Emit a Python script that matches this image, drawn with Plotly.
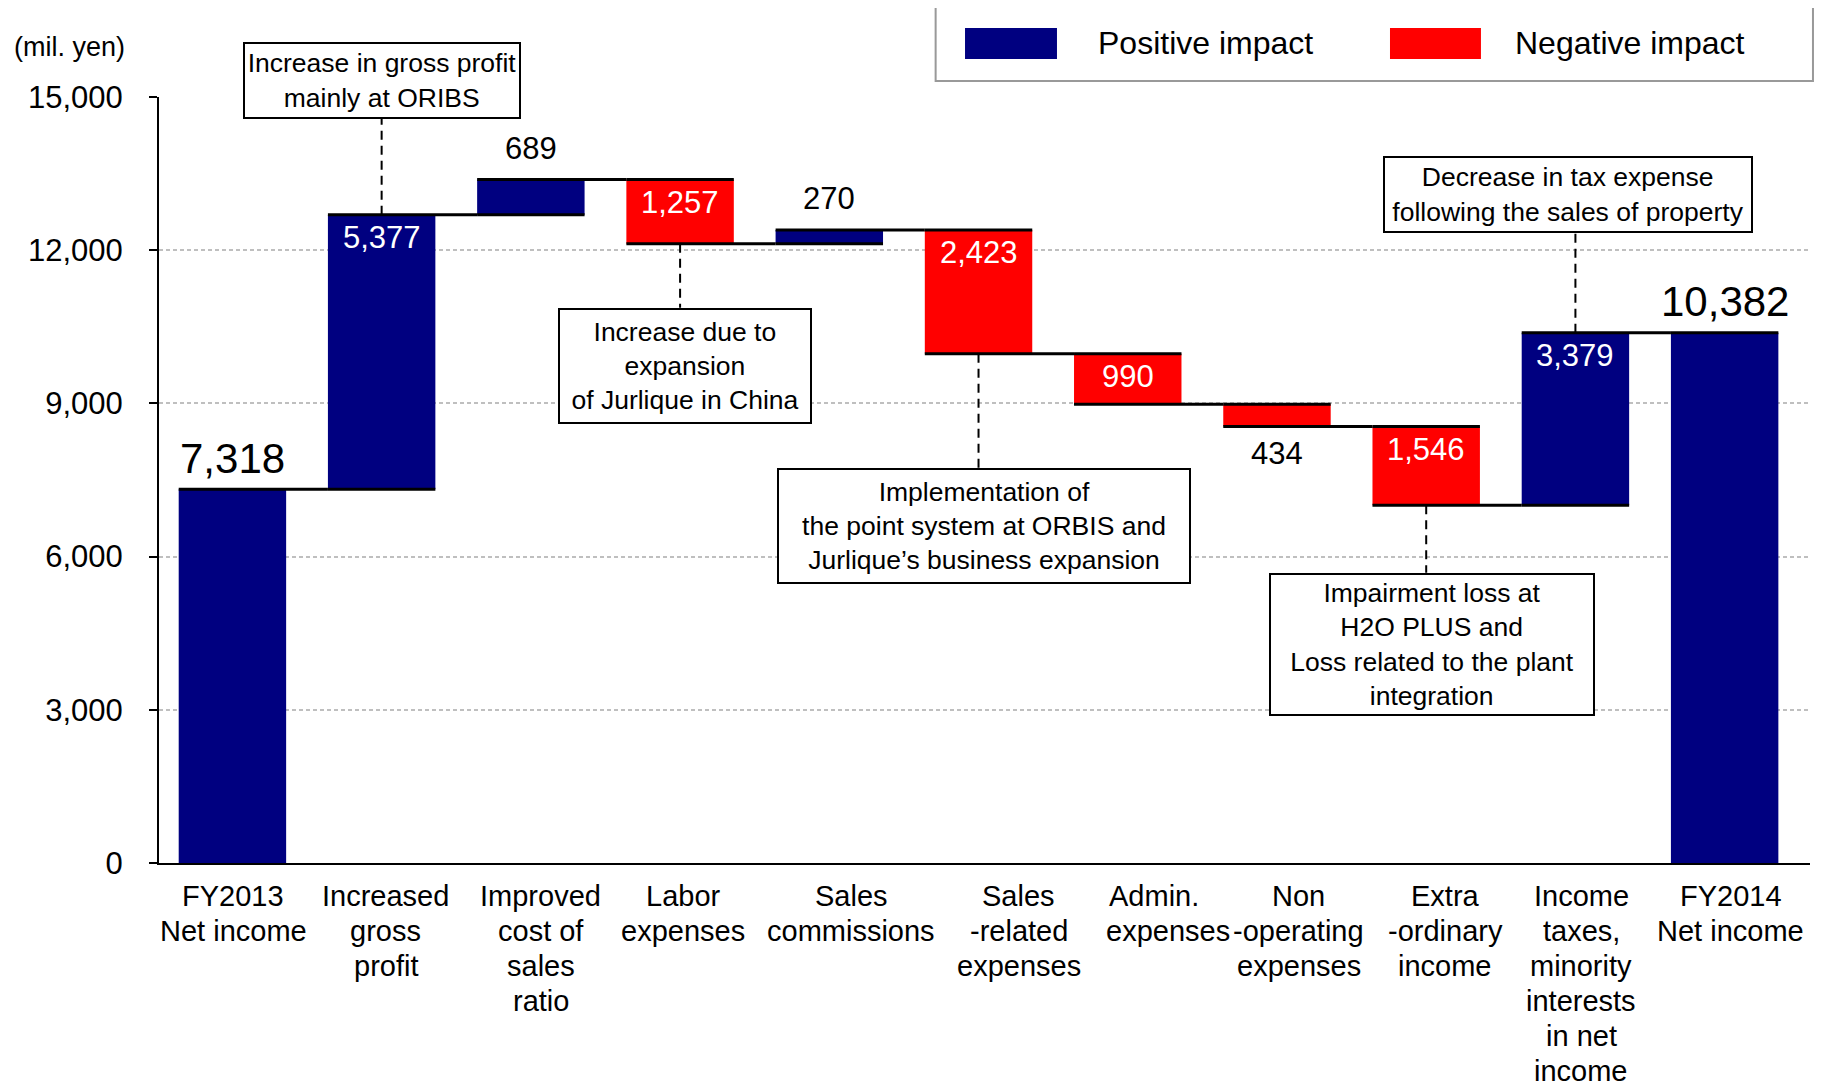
import plotly.graph_objects as go

# ---------------- data ----------------
categories = [
    "FY2013<br>Net income",
    "Increased<br>gross<br>profit",
    "Improved<br>cost of<br>sales<br>ratio",
    "Labor<br>expenses",
    "Sales<br>commissions",
    "Sales<br>-related<br>expenses",
    "Admin.<br>expenses",
    "Non<br>-operating<br>expenses",
    "Extra<br>-ordinary<br>income",
    "Income<br>taxes,<br>minority<br>interests<br>in net<br>income",
    "FY2014<br>Net income",
]
values = [7318, 5377, 689, -1257, 270, -2423, -990, -434, -1546, 3379, 10382]
measures = ["absolute"] + ["relative"] * 9 + ["absolute"]
y_ticks = [0, 3000, 6000, 9000, 12000, 15000]

legend_labels = ["Positive impact", "Negative impact"]
unit_label = "(mil. yen)"

callout_texts = [
    "Increase in gross profit<br>mainly at ORIBS",
    "Increase due to<br>expansion<br>of Jurlique in China",
    "Implementation of<br>the point system at ORBIS and<br>Jurlique\u2019s business expansion",
    "Impairment loss at<br>H2O PLUS and<br>Loss related to the plant<br>integration",
    "Decrease in tax expense<br>following the sales of property",
]
callout_category_index = [1, 3, 5, 8, 9]

# ---------------- styles / layout ----------------
NAVY = "#000080"
RED = "#FF0000"
FONT = "Liberation Sans, Arial, sans-serif"

label_pos = ["above", "inside", "above", "inside", "above", "inside",
             "inside", "below", "inside", "inside", "above"]
label_xshift = [1, 4, 10, 3, 22, 40, 40, 22, 19, 6, 6]
line_xshift_override = {(6, 0): 26}
callout_xshift = [0, 5, 5, 6, -7]
callout_box_edge = [14577, 10874, 7739, 5682, 12343]  # y level of the box edge nearest the bar
callout_side = ["above", "below", "below", "below", "above"]
callout_width = [268, 244, 404, 316, 360]
callout_height = [67, 106, 106, None, 67]

# cumulative positions (derived from data)
starts, ends = [], []
running = 0
for v, m in zip(values, measures):
    if m == "absolute":
        starts.append(0)
        running = v
    else:
        starts.append(running)
        running += v
    ends.append(running)
tops = [max(s, e) for s, e in zip(starts, ends)]
bottoms = [min(s, e) for s, e in zip(starts, ends)]

fig = go.Figure()
fig.add_trace(go.Waterfall(
    x=categories, y=values, measure=measures,
    increasing=dict(marker=dict(color=NAVY)),
    decreasing=dict(marker=dict(color=RED)),
    totals=dict(marker=dict(color=NAVY)),
    connector=dict(mode="spanning", line=dict(color="black", width=3)),
    width=0.72,
    textinfo="none",
    hoverinfo="skip",
    showlegend=False,
))

annotations = []
shapes = []

# value labels
for i, (cat, v) in enumerate(zip(categories, values)):
    big = measures[i] == "absolute"
    size = 42 if big else 31
    pos = label_pos[i]
    if pos == "above":
        y, ys, col = tops[i], 31, "black"
    elif pos == "inside":
        y, ys, col = tops[i], -23, "white"
    else:
        y, ys, col = bottoms[i], -27, "black"
    annotations.append(dict(
        x=cat, y=y, xref="x", yref="y", text=f"{abs(v):,}",
        showarrow=False, yanchor="middle", xanchor="center", yshift=ys,
        font=dict(family=FONT, size=size, color=col)))

# category labels (one annotation per line for exact line spacing)
for i, cat in enumerate(categories):
    for k, line in enumerate(cat.split("<br>")):
        annotations.append(dict(
            x=cat, y=0, xref="x", yref="paper", text=line, showarrow=False,
            xanchor="center", yanchor="middle", yshift=-(33 + 35 * k),
            xshift=line_xshift_override.get((i, k), label_xshift[i]),
            font=dict(family=FONT, size=29, color="black")))

# callouts
for k, txt in enumerate(callout_texts):
    i = callout_category_index[k]
    cat = categories[i]
    edge = callout_box_edge[k]
    if callout_side[k] == "above":
        bar_level = tops[i]
        yanchor = "bottom"
    else:
        bar_level = bottoms[i]
        yanchor = "top"
    shapes.append(dict(type="line", xref="x", yref="y", x0=cat, x1=cat,
                       y0=bar_level, y1=edge,
                       line=dict(color="black", width=2, dash="9px,6px")))
    ann = dict(
        x=cat, y=edge, xref="x", yref="y", text=txt, showarrow=False,
        xanchor="center", yanchor=yanchor, xshift=callout_xshift[k],
        align="center", bgcolor="white", bordercolor="black", borderwidth=2,
        borderpad=3, width=callout_width[k],
        font=dict(family=FONT, size=26.5, color="black"))
    if callout_height[k]:
        ann["height"] = callout_height[k]
    annotations.append(ann)

# legend drawn manually
shapes.append(dict(type="rect", xref="paper", yref="paper",
                   x0=0.4704, x1=1.0018, y0=1.0209, y1=1.1201,
                   line=dict(color="#999999", width=2), fillcolor="white"))
shapes.append(dict(type="rect", xref="paper", yref="paper",
                   x0=0.4882, x1=0.5439, y0=1.0496, y1=1.0901,
                   line=dict(width=0), fillcolor=NAVY))
shapes.append(dict(type="rect", xref="paper", yref="paper",
                   x0=0.7456, x1=0.8007, y0=1.0496, y1=1.0901,
                   line=dict(width=0), fillcolor=RED))
for xl, lab in zip([0.5675, 0.8201], legend_labels):
    annotations.append(dict(x=xl, y=1.0705, xref="paper", yref="paper",
                            text=lab, showarrow=False, xanchor="left",
                            yanchor="middle",
                            font=dict(family=FONT, size=32, color="black")))

# unit label
annotations.append(dict(x=-0.089, y=1.065, xref="paper", yref="paper",
                        text=unit_label, showarrow=False, xanchor="left",
                        yanchor="middle",
                        font=dict(family=FONT, size=27, color="black")))

fig.update_layout(
    width=1823, height=1076,
    margin=dict(l=151, r=21, t=89, b=221),
    paper_bgcolor="white", plot_bgcolor="white",
    font=dict(family=FONT, color="black"),
    annotations=annotations, shapes=shapes,
    showlegend=False,
)
fig.update_xaxes(
    type="category", range=[-0.492, 10.572],
    showticklabels=False, ticks="", showgrid=False,
    showline=True, linecolor="black", linewidth=2, zeroline=False,
)
fig.update_yaxes(
    range=[0, 15000], tickvals=y_ticks, tickformat=",",
    ticks="outside", ticklen=8, tickwidth=2, tickcolor="black",
    ticklabelstandoff=20,
    tickfont=dict(family=FONT, size=31, color="black"),
    showline=True, linecolor="black", linewidth=2,
    showgrid=True, gridcolor="#BFBFBF", gridwidth=1.5, griddash="4px,3px",
    zeroline=False,
)

fig.write_html("out.html")
